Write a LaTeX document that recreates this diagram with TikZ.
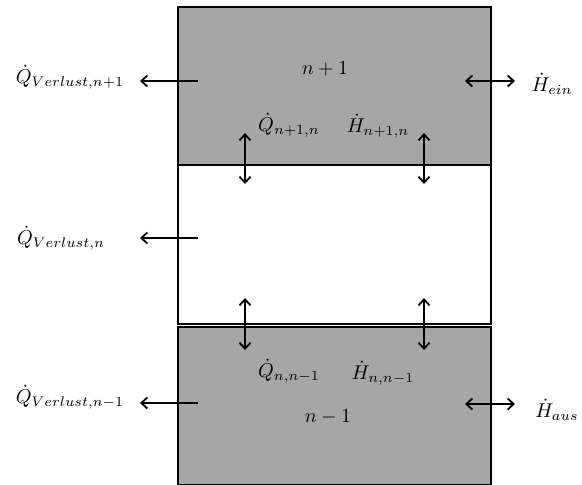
\documentclass[tikz,border=0pt]{standalone}
\usepackage{amsmath}
\usepackage{tikz}
\usetikzlibrary{arrows.meta, positioning, calc}
\usepackage{xcolor}
\definecolor{cellgray}{RGB}{166,166,166}
\tikzset{
    % Control volumes
    cellbox/.style={rectangle, draw=black, line width=1pt, fill=#1,
                minimum width=156.5pt, inner sep=0pt, outer sep=0pt},
    % Flows
    flowarrow/.style={{Straight Barb[length=3pt, width=5.5pt]}-{Straight Barb[length=3pt, width=5.5pt]}, line width=0.9pt},
    lossarrow/.style={-{Straight Barb[length=3pt, width=5.5pt]}, line width=0.9pt},
    flowlbl/.style={inner sep=0pt, font=\normalsize},
}

\begin{document}
\begin{tikzpicture}[x=0.5pt, y=-0.5pt]
\clip (0,0) rectangle (582,484);
\fill[white] (0,0) rectangle (582,484);

% cells n+1, n, n-1
\node[cellbox=cellgray, minimum height=79pt]   (upper)  at (334.5,86)    {};
\node[cellbox=white,    minimum height=79.5pt] (middle) at (334.5,244.5) {};
\node[cellbox=cellgray, minimum height=79pt]   (lower)  at (334.5,406)   {};

\node[flowlbl] (nup)  at (325,69)  {$n+1$};
\node[flowlbl] (nlow) at (328,417) {$n-1$};

% heat losses
\node[flowlbl] (lossup)  at (70,77)  {$\dot{Q}_{Verlust,n+1}$};
\node[flowlbl] (lossmid) at (61,238) {$\dot{Q}_{Verlust,n}$};
\node[flowlbl] (losslow) at (70,397) {$\dot{Q}_{Verlust,n-1}$};

\coordinate (lossupA)  at (198,81);
\coordinate (lossupB)  at (140,81);
\coordinate (lossmidA) at (198,238);
\coordinate (lossmidB) at (140,238);
\coordinate (losslowA) at (198,403);
\coordinate (losslowB) at (140,403);

\draw[lossarrow] (lossupA) -- (lossupB);
\draw[lossarrow] (lossmidA) -- (lossmidB);
\draw[lossarrow] (losslowA) -- (losslowB);

% enthalpy in / out
\node[flowlbl] (hin)  at (552,84)  {$\dot{H}_{ein}$};
\node[flowlbl] (hout) at (557,410) {$\dot{H}_{aus}$};

\coordinate (hinA)  at (465,81);
\coordinate (hinB)  at (515,81);
\coordinate (houtA) at (465,404);
\coordinate (houtB) at (515,404);

\draw[flowarrow] (hinA) -- (hinB);
\draw[flowarrow] (houtA) -- (houtB);

% exchange between cells
\node[flowlbl] (qup)  at (289,125) {$\dot{Q}_{n+1,n}$};
\node[flowlbl] (hup)  at (378,126) {$\dot{H}_{n+1,n}$};
\node[flowlbl] (qlow) at (289,371) {$\dot{Q}_{n,n-1}$};
\node[flowlbl] (hlow) at (383,373) {$\dot{H}_{n,n-1}$};

\coordinate (qupA)  at (245,133);
\coordinate (qupB)  at (245,184);
\coordinate (hupA)  at (424,133);
\coordinate (hupB)  at (424,184);
\coordinate (qlowA) at (245,298);
\coordinate (qlowB) at (245,350);
\coordinate (hlowA) at (424,298);
\coordinate (hlowB) at (424,350);

\draw[flowarrow] (qupA) -- (qupB);
\draw[flowarrow] (hupA) -- (hupB);
\draw[flowarrow] (qlowA) -- (qlowB);
\draw[flowarrow] (hlowA) -- (hlowB);
\end{tikzpicture}
\end{document}
